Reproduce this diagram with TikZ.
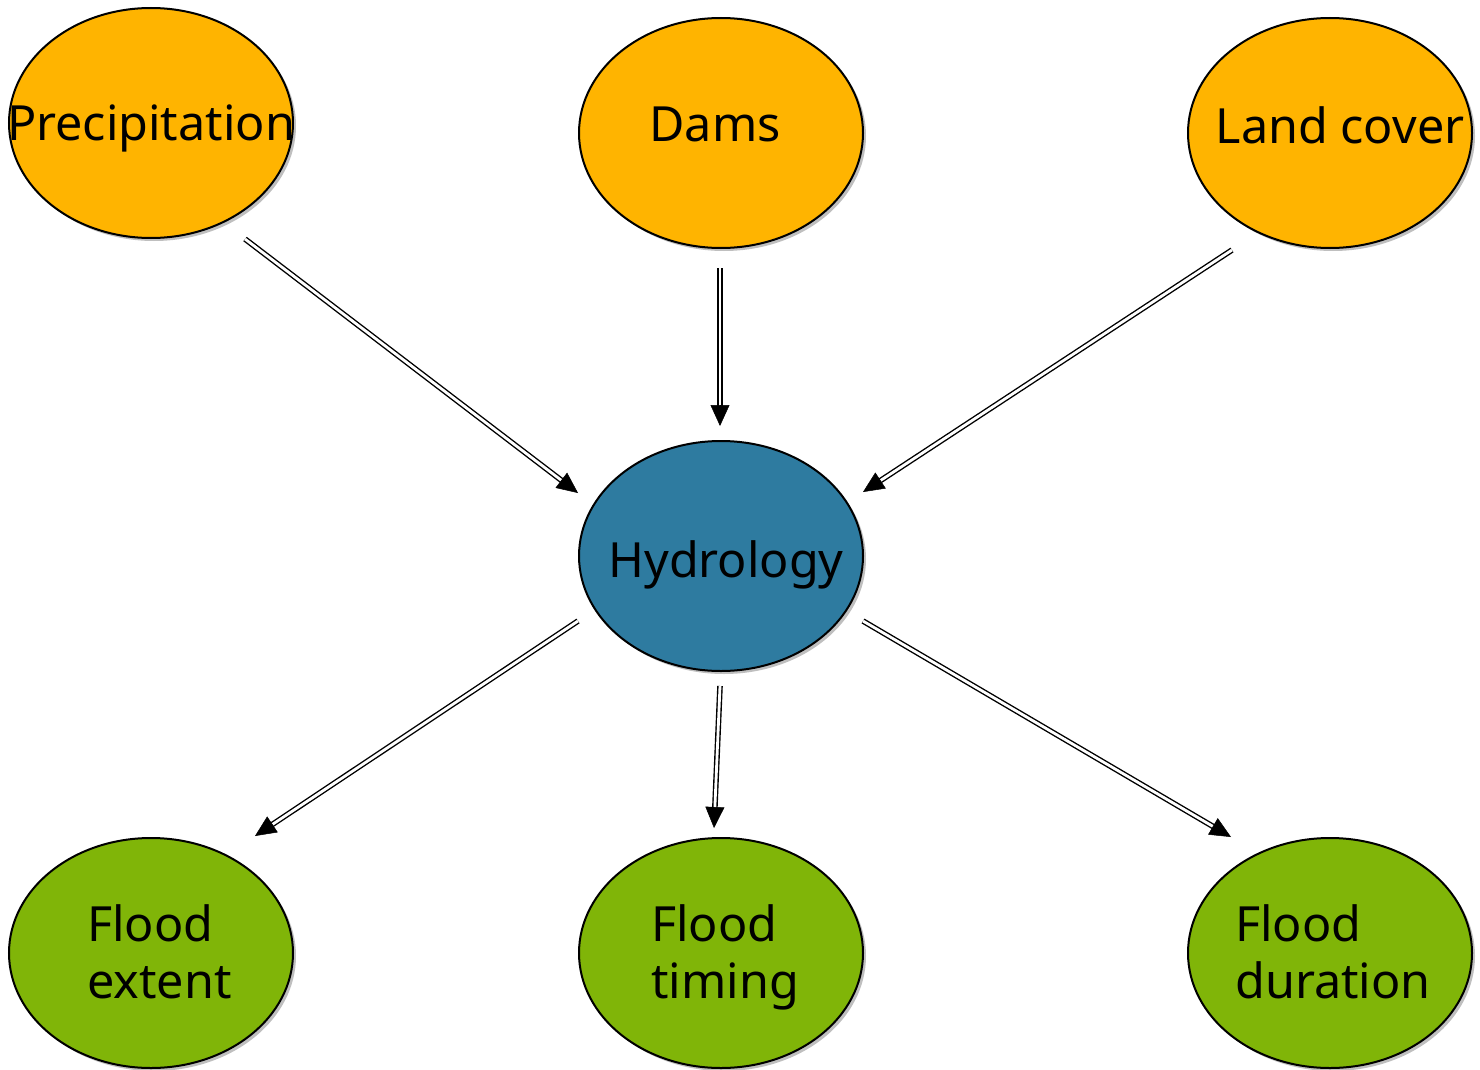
\documentclass[tikz,border=0pt]{standalone}
\usepackage{fontspec}
\setmainfont{Noto Sans}
\usetikzlibrary{shapes.geometric,arrows.meta,shadows,calc}
\definecolor{cOrange}{RGB}{255,180,0}
\definecolor{cBlue}{RGB}{46,123,160}
\definecolor{cGreen}{RGB}{128,181,8}
\tikzset{
  blob/.style={ellipse, draw=black, line width=2pt, minimum width=284pt, minimum height=230pt, inner sep=0pt,
    drop shadow={shadow xshift=3pt, shadow yshift=-3pt, opacity=0.25, fill=black}},
  lbl/.style={font=\fontsize{48.5}{57}\selectfont, inner sep=0pt, anchor=base},
  lblL/.style={font=\fontsize{48.5}{57}\selectfont, inner sep=0pt, align=left, anchor=north west},
  dbl/.style={draw=black, line width=1.4pt, double=white, double distance=2.8pt},
  tip/.style={-{Triangle[length=21pt,width=19pt]}, line width=0.5pt, black},
}
\newcommand{\conn}[2]{%
  \draw[dbl] (#1) -- ($(#2)!18pt!(#1)$);
  \draw[tip] ($(#2)!20pt!(#1)$) -- (#2);}
\begin{document}
\begin{tikzpicture}[x=1pt,y=-1pt]
\useasboundingbox (0,0) rectangle (1480,1070);
\node[blob, fill=cOrange] (prec) at (151,123) {};
\node[blob, fill=cOrange] (dams) at (721,133) {};
\node[blob, fill=cOrange] (land) at (1330,133) {};
\node[blob, fill=cBlue] (hyd) at (721,556) {};
\node[blob, fill=cGreen] (ext) at (151,953) {};
\node[blob, fill=cGreen] (tim) at (721,953) {};
\node[blob, fill=cGreen] (dur) at (1330,953) {};

\node[lbl] (precT) at (151,141) {Precipitation};
\node[lbl] (damsT) at (715,142) {Dams};
\node[lbl] (landT) at (1340,143) {Land cover};
\node[lbl] (hydT) at (726,577) {Hydrology};
\node[lblL] (extT) at (87,904) {Flood\\extent};
\node[lblL] (timT) at (651,904) {Flood\\timing};
\node[lblL] (durT) at (1235,904) {Flood\\duration};

\coordinate (a1s) at (245,239); \coordinate (a1e) at (578,493);
\coordinate (a2s) at (720,268); \coordinate (a2e) at (720,426);
\coordinate (a3s) at (1232,250); \coordinate (a3e) at (863,492);
\coordinate (b1s) at (578,621); \coordinate (b1e) at (255,836);
\coordinate (b2s) at (720,686); \coordinate (b2e) at (714,828);
\coordinate (b3s) at (863,621); \coordinate (b3e) at (1231,837);
\conn{a1s}{a1e}
\conn{a2s}{a2e}
\conn{a3s}{a3e}
\conn{b1s}{b1e}
\conn{b2s}{b2e}
\conn{b3s}{b3e}
\end{tikzpicture}
\end{document}
